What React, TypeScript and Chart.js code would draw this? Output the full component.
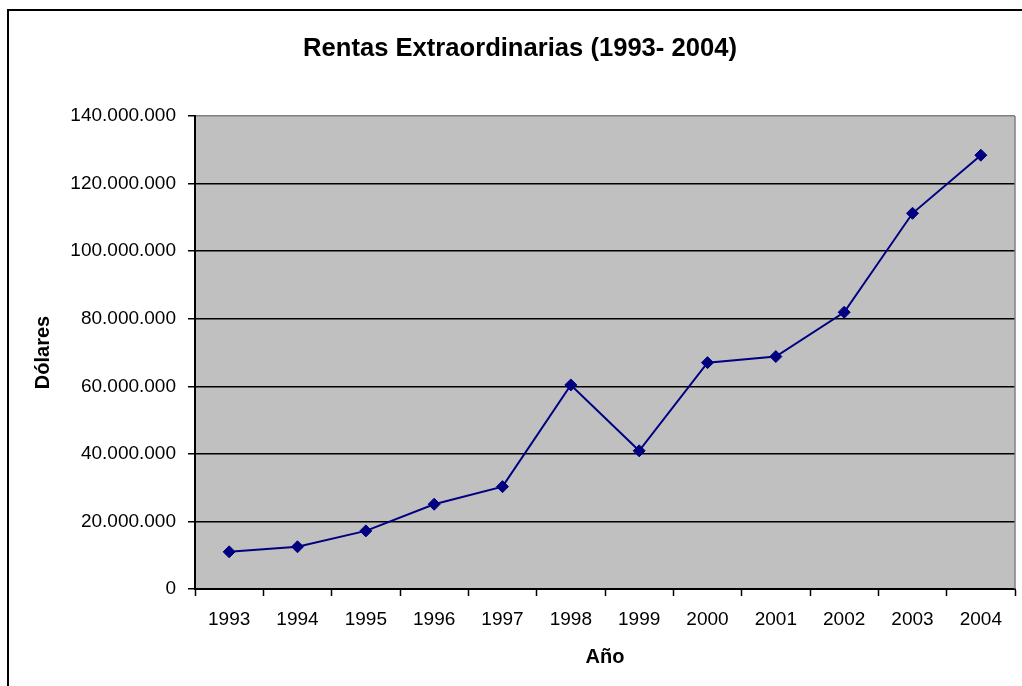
import React, { useEffect, useRef } from "react";
import { Chart, registerables } from "chart.js";

Chart.register(...registerables);

const chartTitle = "Rentas Extraordinarias (1993- 2004)";
const xAxisTitle = "Año";
const yAxisTitle = "Dólares";
const years = ["1993", "1994", "1995", "1996", "1997", "1998", "1999", "2000", "2001", "2002", "2003", "2004"];
const rentas = [11000000, 12500000, 17200000, 25100000, 30300000, 60400000, 40900000, 67000000, 68800000, 81900000, 111200000, 128400000];
const yMin = 0;
const yMax = 140000000;
const yStep = 20000000;

const FONT = "'Liberation Sans', Arial, sans-serif";

const fmt = (v: number) => String(Math.round(v)).replace(/\B(?=(\d{3})+(?!\d))/g, ".");

const decorPlugin = {
  id: "decor",
  beforeDraw(chart: any) {
    const { ctx, chartArea } = chart;
    ctx.save();
    ctx.fillStyle = "#ffffff";
    ctx.fillRect(0, 0, chart.width, chart.height);
    ctx.fillStyle = "#C0C0C0";
    ctx.fillRect(chartArea.left, chartArea.top, chartArea.right - chartArea.left, chartArea.bottom - chartArea.top);
    ctx.restore();
  },
  afterDraw(chart: any) {
    const { ctx, chartArea } = chart;
    ctx.save();
    ctx.strokeStyle = "#808080";
    ctx.lineWidth = 1.5;
    ctx.beginPath();
    ctx.moveTo(chartArea.right, chartArea.top);
    ctx.lineTo(chartArea.right, chartArea.bottom);
    ctx.stroke();
    ctx.strokeStyle = "#000000";
    ctx.lineWidth = 2;
    ctx.beginPath();
    ctx.moveTo(8, chart.height + 5);
    ctx.lineTo(8, 10);
    ctx.lineTo(chart.width + 5, 10);
    ctx.stroke();
    ctx.fillStyle = "#000000";
    ctx.font = `bold 25.6px ${FONT}`;
    ctx.textAlign = "center";
    ctx.textBaseline = "alphabetic";
    ctx.fillText(chartTitle, 520, 55.5);
    ctx.restore();
  },
};

export default function App() {
  const ref = useRef<HTMLCanvasElement | null>(null);
  useEffect(() => {
    if (!ref.current) return;
    const chart = new Chart(ref.current, {
      type: "line",
      data: {
        labels: years,
        datasets: [
          {
            data: rentas,
            borderColor: "#000080",
            backgroundColor: "#000080",
            borderWidth: 2,
            pointStyle: "rectRot",
            pointRadius: 6,
            pointBorderWidth: 1,
            pointBackgroundColor: "#000080",
            pointBorderColor: "#000080",
            tension: 0,
          },
        ],
      },
      plugins: [decorPlugin],
      options: {
        animation: false,
        responsive: true,
        maintainAspectRatio: false,
        devicePixelRatio: 1,
        layout: { padding: { top: 116, left: 0, right: 5, bottom: 0 } },
        plugins: { legend: { display: false }, tooltip: { enabled: false }, title: { display: false } },
        scales: {
          x: {
            offset: true,
            grid: {
              offset: true,
              drawOnChartArea: false,
              drawTicks: true,
              tickLength: 7,
              tickColor: "#000",
              tickWidth: 1.5,
            },
            border: { display: true, color: "#000", width: 2 },
            ticks: { color: "#000", font: { family: FONT, size: 19 }, padding: 12, maxRotation: 0, autoSkip: false },
            title: { display: true, text: xAxisTitle, color: "#000", font: { family: FONT, size: 20, weight: "bold" }, padding: { top: 0, bottom: 17 } },
            afterFit: (s: any) => { s.height = 97; },
          },
          y: {
            min: yMin,
            max: yMax,
            ticks: { stepSize: yStep, color: "#000", font: { family: FONT, size: 19 }, padding: 12, callback: (v: any) => fmt(Number(v)) },
            grid: {
              color: (c: any) => (c.tick && c.tick.value === yMax ? "#808080" : "#000"),
              lineWidth: 1.5,
              drawTicks: true,
              tickLength: 7,
              tickColor: "#000",
              tickWidth: 1.5,
            },
            border: { display: true, color: "#000", width: 2 },
            title: { display: true, text: yAxisTitle, color: "#000", font: { family: FONT, size: 20, weight: "bold" }, padding: { top: 31, bottom: 0 } },
            afterFit: (s: any) => { s.width = 195; },
          },
        },
      },
    });
    return () => chart.destroy();
  }, []);
  return (
    <div style={{ position: "absolute", left: 0, top: 0, width: 1022, height: 686, background: "#fff" }}>
      <canvas ref={ref} />
    </div>
  );
}
